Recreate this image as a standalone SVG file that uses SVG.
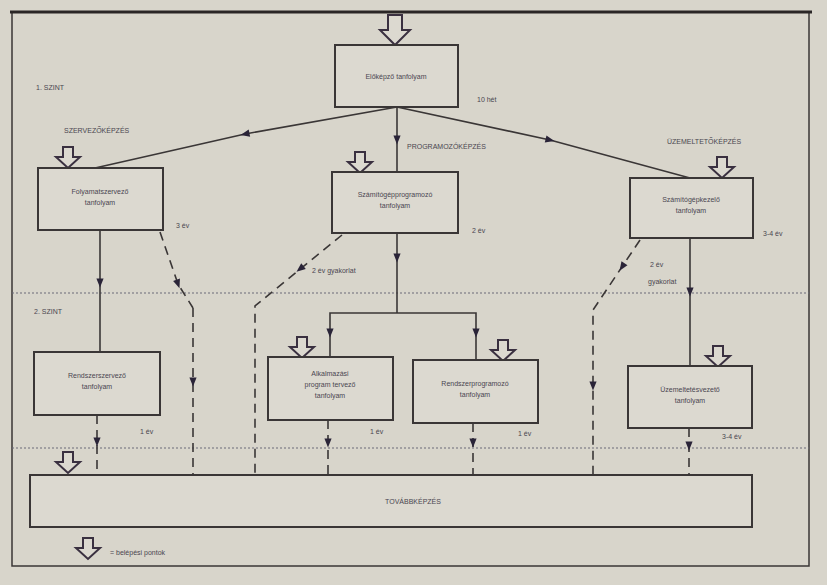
<svg xmlns="http://www.w3.org/2000/svg" width="827" height="585" viewBox="0 0 827 585">
<style>
.bg{fill:#d8d5cb}
.box{fill:#dcd9d0;stroke:#3a3636;stroke-width:2}
.ln{fill:none;stroke:#3a3636;stroke-width:1.6}
.ds{fill:none;stroke:#3a3636;stroke-width:1.6;stroke-dasharray:9 6}
.dt{fill:none;stroke:#6a6a78;stroke-width:1.2;stroke-dasharray:2 2}
.t{font-family:"Liberation Sans",Arial,sans-serif;font-size:7px;fill:#4a4650;text-anchor:middle}
.l{font-family:"Liberation Sans",Arial,sans-serif;font-size:7px;fill:#4a4650}
.ent{fill:#dcd9d0;stroke:#3a3040;stroke-width:2;stroke-linejoin:miter}
</style>
<defs>
<marker id="ah" viewBox="0 0 10 10" refX="5" refY="5" markerWidth="10" markerHeight="9" markerUnits="userSpaceOnUse" orient="auto"><path d="M0,1 L10,5 L0,9 Z" fill="#2a2438"/></marker>
<path id="entry" d="M-5,0 H5 V10 H12 L0,21 L-12,10 H-5 Z"/>
</defs>
<rect class="bg" x="0" y="0" width="827" height="585"/>
<rect x="12" y="12" width="797" height="554" fill="none" stroke="#3a3636" stroke-width="1.5"/>
<line x1="10" y1="12" x2="812" y2="12" stroke="#2a2626" stroke-width="3"/>

<g id="levels">
<line class="dt" x1="12" y1="293" x2="809" y2="293"/>
<line class="dt" x1="12" y1="448" x2="809" y2="448"/>
<text class="l" x="36" y="90">1. SZINT</text>
<text class="l" x="34" y="314">2. SZINT</text>
</g>

<g id="connectors">
<path class="ln" d="M397,107 L245,134 L95,168" marker-mid="url(#ah)"/>
<path class="ln" d="M397,107 L397,140 L397,172" marker-mid="url(#ah)"/>
<path class="ln" d="M397,107 L550,140 L690,178" marker-mid="url(#ah)"/>
<path class="ln" d="M100,230 L100,283 L100,352" marker-mid="url(#ah)"/>
<path class="ds" d="M160,232 L178,284 L193,308"/>
<path d="M160,232 L178,284" fill="none" stroke="none" marker-end="url(#ah)"/>
<path class="ds" d="M193,308 L193,475"/>
<path d="M193,300 L193,382" fill="none" stroke="none" marker-end="url(#ah)"/>
<path class="ds" d="M342,235 L255,306 L255,475"/>
<path d="M342,235 L300,269" fill="none" stroke="none" marker-end="url(#ah)"/>
<path class="ln" d="M397,233 L397,258 L397,313" marker-mid="url(#ah)"/>
<path class="ln" d="M330,357 L330,313 L476,313 L476,360"/>
<path d="M330,313 L330,333" fill="none" stroke="none" marker-end="url(#ah)"/>
<path d="M476,313 L476,333" fill="none" stroke="none" marker-end="url(#ah)"/>
<path class="ds" d="M640,240 L593,310 L593,475"/>
<path d="M640,240 L622,267" fill="none" stroke="none" marker-end="url(#ah)"/>
<path d="M593,310 L593,386" fill="none" stroke="none" marker-end="url(#ah)"/>
<path class="ln" d="M690,238 L690,292 L690,366" marker-mid="url(#ah)"/>
<path class="ds" d="M97,415 L97,475"/>
<path d="M97,415 L97,442" fill="none" stroke="none" marker-end="url(#ah)"/>
<path class="ds" d="M328,420 L328,475"/>
<path d="M328,420 L328,443" fill="none" stroke="none" marker-end="url(#ah)"/>
<path class="ds" d="M473,423 L473,475"/>
<path d="M473,423 L473,443" fill="none" stroke="none" marker-end="url(#ah)"/>
<path class="ds" d="M689,428 L689,475"/>
<path d="M689,428 L689,446" fill="none" stroke="none" marker-end="url(#ah)"/>
</g>

<g id="entries">
<path class="ent" d="M388,15 H402 V30 H410 L395,45 L380,30 H388 Z"/>
<use href="#entry" class="ent" x="68" y="147"/>
<use href="#entry" class="ent" x="360" y="152"/>
<use href="#entry" class="ent" x="722" y="157"/>
<use href="#entry" class="ent" x="302" y="337"/>
<use href="#entry" class="ent" x="503" y="340"/>
<use href="#entry" class="ent" x="718" y="346"/>
<use href="#entry" class="ent" x="68" y="452"/>
<use href="#entry" class="ent" x="88" y="538"/>
</g>

<g id="elokepzo">
<rect class="box" x="335" y="45" width="123" height="62"/>
<text class="t" x="396" y="79">Előképző tanfolyam</text>
<text class="l" x="477" y="102">10 hét</text>
</g>

<g id="folyamatszervezo">
<text class="l" x="64" y="133">SZERVEZŐKÉPZÉS</text>
<rect class="box" x="38" y="168" width="125" height="62"/>
<text class="t" x="100" y="194">Folyamatszervező</text>
<text class="t" x="100" y="205">tanfolyam</text>
<text class="l" x="176" y="228">3 év</text>
</g>

<g id="programozo">
<text class="l" x="407" y="149">PROGRAMOZÓKÉPZÉS</text>
<rect class="box" x="332" y="172" width="126" height="61"/>
<text class="t" x="395" y="197">Számítógépprogramozó</text>
<text class="t" x="395" y="208">tanfolyam</text>
<text class="l" x="472" y="233">2 év</text>
<text class="l" x="312" y="273">2 év  gyakorlat</text>
</g>

<g id="kezelo">
<text class="l" x="667" y="144">ÜZEMELTETŐKÉPZÉS</text>
<rect class="box" x="630" y="178" width="123" height="60"/>
<text class="t" x="691" y="202">Számítógépkezelő</text>
<text class="t" x="691" y="213">tanfolyam</text>
<text class="l" x="763" y="236">3-4 év</text>
<text class="l" x="650" y="267">2 év</text>
<text class="l" x="648" y="284">gyakorlat</text>
</g>

<g id="rendszerszervezo">
<rect class="box" x="34" y="352" width="126" height="63"/>
<text class="t" x="97" y="378">Rendszerszervező</text>
<text class="t" x="97" y="389">tanfolyam</text>
<text class="l" x="140" y="434">1 év</text>
</g>

<g id="alkalmazasi">
<rect class="box" x="268" y="357" width="125" height="63"/>
<text class="t" x="330" y="376">Alkalmazási</text>
<text class="t" x="330" y="387">program tervező</text>
<text class="t" x="330" y="398">tanfolyam</text>
<text class="l" x="370" y="434">1 év</text>
</g>

<g id="rendszerprogramozo">
<rect class="box" x="413" y="360" width="125" height="63"/>
<text class="t" x="475" y="386">Rendszerprogramozó</text>
<text class="t" x="475" y="397">tanfolyam</text>
<text class="l" x="518" y="436">1 év</text>
</g>

<g id="uzemeltetesvezeto">
<rect class="box" x="628" y="366" width="124" height="62"/>
<text class="t" x="690" y="392">Üzemeltetésvezető</text>
<text class="t" x="690" y="403">tanfolyam</text>
<text class="l" x="722" y="439">3-4 év</text>
</g>

<g id="tovabbkepzes">
<rect class="box" x="30" y="475" width="722" height="52"/>
<text class="t" x="413" y="504">TOVÁBBKÉPZÉS</text>
</g>

<g id="legend">
<text class="l" x="110" y="555">= belépési pontok</text>
</g>
</svg>
